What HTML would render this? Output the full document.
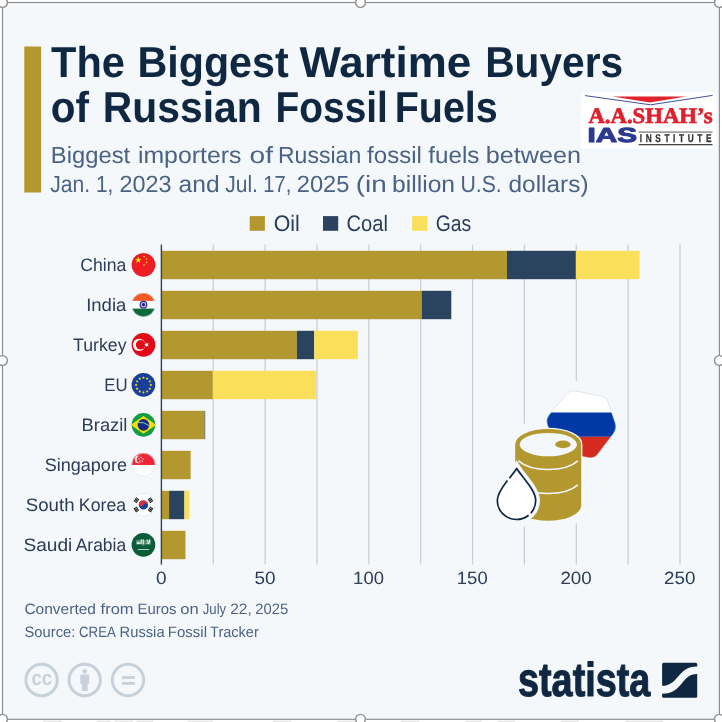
<!DOCTYPE html><html><head><meta charset="utf-8"><title>The Biggest Wartime Buyers of Russian Fossil Fuels</title>
<style>html,body{margin:0;padding:0;background:#fff}svg{display:block}text{font-family:"Liberation Sans",sans-serif;text-rendering:geometricPrecision}</style></head><body>
<svg width="722" height="722" viewBox="0 0 722 722">
<rect width="722" height="722" fill="#fff"/>
<rect x="2.5" y="2.5" width="716.9" height="716.8" fill="#f4f8fb"/>
<rect x="24.3" y="46.5" width="16.8" height="146" fill="#b3972f"/>
<rect x="249.7" y="216.1" width="15.2" height="14.7" fill="#b3972f"/>
<rect x="323.0" y="216.1" width="15.2" height="14.7" fill="#2a4460"/>
<rect x="412.1" y="216.1" width="15.2" height="14.7" fill="#fadf5a"/>
<rect x="212.66" y="244.6" width="1.2" height="320" fill="#c5ccd6"/>
<rect x="264.52" y="244.6" width="1.2" height="320" fill="#c5ccd6"/>
<rect x="316.38" y="244.6" width="1.2" height="320" fill="#c5ccd6"/>
<rect x="368.24" y="244.6" width="1.2" height="320" fill="#c5ccd6"/>
<rect x="420.10" y="244.6" width="1.2" height="320" fill="#c5ccd6"/>
<rect x="471.96" y="244.6" width="1.2" height="320" fill="#c5ccd6"/>
<rect x="523.82" y="244.6" width="1.2" height="320" fill="#c5ccd6"/>
<rect x="575.68" y="244.6" width="1.2" height="320" fill="#c5ccd6"/>
<rect x="627.54" y="244.6" width="1.2" height="320" fill="#c5ccd6"/>
<rect x="679.40" y="244.6" width="1.2" height="320" fill="#c5ccd6"/>
<rect x="522.5" y="423.6" width="4" height="103" fill="#f4f8fb"/>
<rect x="574.5" y="381.2" width="4" height="142.2" fill="#f4f8fb"/>
<defs><clipPath id="hex"><path d="M565.98,394.55 Q569.81,389.94 575.70,391.09 L600.46,395.93 Q606.35,397.08 608.29,402.76 L615.18,422.97 Q617.11,428.65 613.47,433.42 L597.77,453.99 Q594.14,458.76 588.25,457.61 L563.49,452.77 Q557.60,451.62 555.48,446.01 L547.51,424.94 Q545.39,419.33 549.22,414.72 Z"/></clipPath></defs>
<path d="M565.98,394.55 Q569.81,389.94 575.70,391.09 L600.46,395.93 Q606.35,397.08 608.29,402.76 L615.18,422.97 Q617.11,428.65 613.47,433.42 L597.77,453.99 Q594.14,458.76 588.25,457.61 L563.49,452.77 Q557.60,451.62 555.48,446.01 L547.51,424.94 Q545.39,419.33 549.22,414.72 Z" fill="#f4f8fb" stroke="#f4f8fb" stroke-width="8"/>
<g clip-path="url(#hex)"><rect x="540" y="385" width="80" height="27.5" fill="#fff"/><rect x="540" y="412.5" width="80" height="24.3" fill="#0039a6"/><rect x="540" y="436.8" width="80" height="25" fill="#d52b1e"/></g>
<path d="M565.98,394.55 Q569.81,389.94 575.70,391.09 L600.46,395.93 Q606.35,397.08 608.29,402.76 L615.18,422.97 Q617.11,428.65 613.47,433.42 L597.77,453.99 Q594.14,458.76 588.25,457.61 L563.49,452.77 Q557.60,451.62 555.48,446.01 L547.51,424.94 Q545.39,419.33 549.22,414.72 Z" fill="none" stroke="#c9ced6" stroke-width="0.5"/>
<path d="M515.2,444.4 A33,15.5 0 0 1 581.2,444.4 L581.2,505.2 A33,15.5 0 0 1 515.2,505.2 Z" fill="#b3972f" stroke="#f4f8fb" stroke-width="2.4" paint-order="stroke"/>
<ellipse cx="548.3" cy="444.6" rx="28.6" ry="11.7" fill="#f4f8fb"/>
<ellipse cx="562.9" cy="444.4" rx="7.7" ry="3.8" fill="#b3972f"/>
<path d="M518.9000000000001,461.13 A33,15.5 0 0 0 577.5,461.13" fill="none" stroke="#f4f8fb" stroke-width="1.5" stroke-linecap="round"/>
<path d="M518.9000000000001,485.13 A33,15.5 0 0 0 577.5,485.13" fill="none" stroke="#f4f8fb" stroke-width="1.5" stroke-linecap="round"/>
<path d="M516.7,468.5 C522,477 535.7,490 535.7,500.5 A19.2,19 0 0 1 497.3,500.5 C497.3,490 511.4,477 516.7,468.5 Z" fill="#fff" stroke="#f4f8fb" stroke-width="8.6" stroke-linejoin="miter" stroke-miterlimit="10"/>
<path d="M516.7,468.5 C522,477 535.7,490 535.7,500.5 A19.2,19 0 0 1 497.3,500.5 C497.3,490 511.4,477 516.7,468.5 Z" fill="#fff" stroke="#0f2741" stroke-width="1.7" stroke-linejoin="round" stroke-dasharray="51.5 3 65.5 3 200"/>
<rect x="161.40" y="250.8" width="345.60" height="28.4" fill="#b3972f"/>
<rect x="507.00" y="250.8" width="68.87" height="28.4" fill="#2a4460"/>
<rect x="575.87" y="250.8" width="63.68" height="28.4" fill="#fadf5a"/>
<rect x="161.40" y="290.8" width="260.34" height="28.4" fill="#b3972f"/>
<rect x="421.74" y="290.8" width="29.66" height="28.4" fill="#2a4460"/>
<rect x="451.40" y="290.8" width="0.41" height="28.4" fill="#fadf5a"/>
<rect x="161.40" y="330.8" width="135.46" height="28.4" fill="#b3972f"/>
<rect x="296.86" y="330.8" width="17.42" height="28.4" fill="#2a4460"/>
<rect x="314.28" y="330.8" width="43.56" height="28.4" fill="#fadf5a"/>
<rect x="161.40" y="370.8" width="51.45" height="28.4" fill="#b3972f"/>
<rect x="212.85" y="370.8" width="103.31" height="28.4" fill="#fadf5a"/>
<rect x="161.40" y="410.8" width="43.15" height="28.4" fill="#b3972f"/>
<rect x="204.55" y="410.8" width="0.62" height="28.4" fill="#2a4460"/>
<rect x="161.40" y="450.8" width="29.25" height="28.4" fill="#b3972f"/>
<rect x="161.40" y="490.8" width="7.68" height="28.4" fill="#b3972f"/>
<rect x="169.08" y="490.8" width="15.35" height="28.4" fill="#2a4460"/>
<rect x="184.43" y="490.8" width="4.98" height="28.4" fill="#fadf5a"/>
<rect x="161.40" y="530.8" width="24.06" height="28.4" fill="#b3972f"/>
<rect x="160.70" y="244.6" width="1.4" height="320" fill="#2a4460"/>
<text y="76.7" font-size="43.3" fill="#0f2741" font-weight="bold"><tspan x="51.12" textLength="73.80" lengthAdjust="spacingAndGlyphs">The</tspan> <tspan x="137.44" textLength="151.26" lengthAdjust="spacingAndGlyphs">Biggest</tspan> <tspan x="299.50" textLength="171.69" lengthAdjust="spacingAndGlyphs">Wartime</tspan> <tspan x="485.18" textLength="137.92" lengthAdjust="spacingAndGlyphs">Buyers</tspan></text>
<text y="122.4" font-size="43.3" fill="#0f2741" font-weight="bold"><tspan x="50.66" textLength="38.22" lengthAdjust="spacingAndGlyphs">of</tspan> <tspan x="102.67" textLength="159.07" lengthAdjust="spacingAndGlyphs">Russian</tspan> <tspan x="275.61" textLength="112.19" lengthAdjust="spacingAndGlyphs">Fossil</tspan> <tspan x="394.66" textLength="103.12" lengthAdjust="spacingAndGlyphs">Fuels</tspan></text>
<text y="163.4" font-size="23.4" fill="#4a6283"><tspan x="50.76" textLength="79.42" lengthAdjust="spacingAndGlyphs">Biggest</tspan> <tspan x="137.91" textLength="103.47" lengthAdjust="spacingAndGlyphs">importers</tspan> <tspan x="249.60" textLength="23.42" lengthAdjust="spacingAndGlyphs">of</tspan> <tspan x="277.93" textLength="83.37" lengthAdjust="spacingAndGlyphs">Russian</tspan> <tspan x="367.14" textLength="54.75" lengthAdjust="spacingAndGlyphs">fossil</tspan> <tspan x="428.34" textLength="51.11" lengthAdjust="spacingAndGlyphs">fuels</tspan> <tspan x="485.89" textLength="95.16" lengthAdjust="spacingAndGlyphs">between</tspan></text>
<text y="192.4" font-size="23.4" fill="#4a6283"><tspan x="50.15" textLength="39.85" lengthAdjust="spacingAndGlyphs">Jan.</tspan> <tspan x="96.04" textLength="17.35" lengthAdjust="spacingAndGlyphs">1,</tspan> <tspan x="119.55" textLength="52.10" lengthAdjust="spacingAndGlyphs">2023</tspan> <tspan x="178.55" textLength="41.06" lengthAdjust="spacingAndGlyphs">and</tspan> <tspan x="225.15" textLength="32.79" lengthAdjust="spacingAndGlyphs">Jul.</tspan> <tspan x="263.29" textLength="28.06" lengthAdjust="spacingAndGlyphs">17,</tspan> <tspan x="296.74" textLength="52.62" lengthAdjust="spacingAndGlyphs">2025</tspan> <tspan x="355.71" textLength="30.97" lengthAdjust="spacingAndGlyphs">(in</tspan> <tspan x="392.02" textLength="63.04" lengthAdjust="spacingAndGlyphs">billion</tspan> <tspan x="460.41" textLength="41.33" lengthAdjust="spacingAndGlyphs">U.S.</tspan> <tspan x="508.56" textLength="79.96" lengthAdjust="spacingAndGlyphs">dollars)</tspan></text>
<text y="231.0" font-size="22.4" fill="#2a3d59"><tspan x="273.65" textLength="26.10" lengthAdjust="spacingAndGlyphs">Oil</tspan></text>
<text y="231.0" font-size="22.4" fill="#2a3d59"><tspan x="346.58" textLength="41.43" lengthAdjust="spacingAndGlyphs">Coal</tspan></text>
<text y="231.0" font-size="22.4" fill="#2a3d59"><tspan x="435.72" textLength="35.50" lengthAdjust="spacingAndGlyphs">Gas</tspan></text>
<text y="271.3" font-size="18.0" fill="#2a3d59"><tspan x="80.22" textLength="46.11" lengthAdjust="spacingAndGlyphs">China</tspan></text>
<text y="311.3" font-size="18.0" fill="#2a3d59"><tspan x="86.20" textLength="40.15" lengthAdjust="spacingAndGlyphs">India</tspan></text>
<text y="351.3" font-size="18.0" fill="#2a3d59"><tspan x="73.11" textLength="53.38" lengthAdjust="spacingAndGlyphs">Turkey</tspan></text>
<text y="391.3" font-size="18.0" fill="#2a3d59"><tspan x="104.30" textLength="23.31" lengthAdjust="spacingAndGlyphs">EU</tspan></text>
<text y="431.3" font-size="18.0" fill="#2a3d59"><tspan x="81.57" textLength="45.81" lengthAdjust="spacingAndGlyphs">Brazil</tspan></text>
<text y="471.3" font-size="18.0" fill="#2a3d59"><tspan x="44.75" textLength="82.18" lengthAdjust="spacingAndGlyphs">Singapore</tspan></text>
<text y="511.3" font-size="18.0" fill="#2a3d59"><tspan x="25.82" textLength="48.72" lengthAdjust="spacingAndGlyphs">South</tspan> <tspan x="78.82" textLength="47.32" lengthAdjust="spacingAndGlyphs">Korea</tspan></text>
<text y="551.3" font-size="18.0" fill="#2a3d59"><tspan x="23.40" textLength="48.87" lengthAdjust="spacingAndGlyphs">Saudi</tspan> <tspan x="75.70" textLength="50.43" lengthAdjust="spacingAndGlyphs">Arabia</tspan></text>
<text y="614.0" font-size="15.0" fill="#4a6283"><tspan x="24.42" textLength="71.58" lengthAdjust="spacingAndGlyphs">Converted</tspan> <tspan x="100.63" textLength="32.97" lengthAdjust="spacingAndGlyphs">from</tspan> <tspan x="137.46" textLength="38.98" lengthAdjust="spacingAndGlyphs">Euros</tspan> <tspan x="180.37" textLength="18.47" lengthAdjust="spacingAndGlyphs">on</tspan> <tspan x="202.78" textLength="23.38" lengthAdjust="spacingAndGlyphs">July</tspan> <tspan x="230.22" textLength="21.58" lengthAdjust="spacingAndGlyphs">22,</tspan> <tspan x="255.26" textLength="32.85" lengthAdjust="spacingAndGlyphs">2025</tspan></text>
<text y="636.6" font-size="15.0" fill="#4a6283"><tspan x="24.46" textLength="50.87" lengthAdjust="spacingAndGlyphs">Source:</tspan> <tspan x="79.05" textLength="36.11" lengthAdjust="spacingAndGlyphs">CREA</tspan> <tspan x="119.57" textLength="45.03" lengthAdjust="spacingAndGlyphs">Russia</tspan> <tspan x="167.85" textLength="39.17" lengthAdjust="spacingAndGlyphs">Fossil</tspan> <tspan x="210.06" textLength="48.71" lengthAdjust="spacingAndGlyphs">Tracker</tspan></text>
<text y="584.3" font-size="17.8" fill="#2a3d59"><tspan x="156.05" textLength="10.59" lengthAdjust="spacingAndGlyphs">0</tspan></text>
<text y="584.3" font-size="17.8" fill="#2a3d59"><tspan x="254.62" textLength="21.03" lengthAdjust="spacingAndGlyphs">50</tspan></text>
<text y="584.3" font-size="17.8" fill="#2a3d59"><tspan x="353.14" textLength="30.79" lengthAdjust="spacingAndGlyphs">100</tspan></text>
<text y="584.3" font-size="17.8" fill="#2a3d59"><tspan x="456.86" textLength="30.79" lengthAdjust="spacingAndGlyphs">150</tspan></text>
<text y="584.3" font-size="17.8" fill="#2a3d59"><tspan x="560.42" textLength="31.37" lengthAdjust="spacingAndGlyphs">200</tspan></text>
<text y="584.3" font-size="17.8" fill="#2a3d59"><tspan x="664.14" textLength="31.37" lengthAdjust="spacingAndGlyphs">250</tspan></text>
<circle cx="41.6" cy="680" r="15.7" fill="none" stroke="#c6d1dc" stroke-width="3"/>
<circle cx="84.7" cy="680" r="15.7" fill="none" stroke="#c6d1dc" stroke-width="3"/>
<circle cx="128.0" cy="680" r="15.7" fill="none" stroke="#c6d1dc" stroke-width="3"/>
<text x="31.5" y="685.4" font-size="21" font-weight="bold" fill="#c6d1dc" textLength="20.6" lengthAdjust="spacingAndGlyphs">cc</text>
<circle cx="84.8" cy="671.2" r="2.3" fill="#c6d1dc"/>
<path d="M80.3,675.4 q0,-1 1,-1 h6.9 q1,0 1,1 v8.4 h-1.6 v7.3 h-5.7 v-7.3 h-1.6 z" fill="#c6d1dc"/>
<rect x="122" y="676.1" width="12.8" height="2.9" fill="#c6d1dc"/><rect x="122" y="681.9" width="12.8" height="2.9" fill="#c6d1dc"/>
<text x="518.0" y="696.2" font-size="47.5" font-weight="bold" fill="#0f2741" stroke="#0f2741" stroke-width="1.1" stroke-linejoin="round" textLength="132.4" lengthAdjust="spacingAndGlyphs">statista</text>
<rect x="662.1" y="662.8" width="35.1" height="35" rx="1.6" fill="#0f2741"/>
<path d="M661.5,685.8 L662.1,685.8 C679,685.8 677,666.4 697.2,666.4 L698,666.4 L698,674 L697.2,674 C681,674 683,693.8 662.1,693.8 L661.5,693.8 Z" fill="#f4f8fb"/>
<rect x="581" y="92.2" width="135" height="56.4" fill="#fff"/>
<polygon points="612.4,96.6 686.2,96.6 649.8,102.4" fill="#e2232e"/>
<polyline points="585,95.6 650.6,104.8 712.6,95.4" fill="none" stroke="#2f3c94" stroke-width="0.9"/>
<text x="588.4" y="123.2" font-size="22.2" font-weight="bold" fill="#e0202d" stroke="#e0202d" stroke-width="0.7" textLength="124.2" lengthAdjust="spacingAndGlyphs" style="font-family:'Liberation Serif',serif">A.A.SHAH’s</text>
<text x="587.6" y="142.3" font-size="20.5" font-weight="bold" fill="#2b398f" stroke="#2b398f" stroke-width="1.0" stroke-linejoin="round" textLength="49.5" lengthAdjust="spacingAndGlyphs">IAS</text>
<rect x="638.7" y="131.6" width="73.8" height="0.9" fill="#444"/>
<rect x="638.7" y="144" width="73.8" height="1.3" fill="#444"/>
<text transform="translate(639.8,142.2) scale(0.74,1)" x="0" y="0" font-size="11.2" font-weight="bold" fill="#333" stroke="#333" stroke-width="0.3" textLength="96.8" lengthAdjust="spacing">INSTITUTE</text>
<defs>
<clipPath id="fc0"><circle cx="143.45" cy="264.85" r="11.85"/></clipPath>
<clipPath id="fc1"><circle cx="143.45" cy="304.85" r="11.85"/></clipPath>
<clipPath id="fc2"><circle cx="143.45" cy="344.85" r="11.85"/></clipPath>
<clipPath id="fc3"><circle cx="143.45" cy="384.85" r="11.85"/></clipPath>
<clipPath id="fc4"><circle cx="143.45" cy="424.85" r="11.85"/></clipPath>
<clipPath id="fc5"><circle cx="143.45" cy="464.85" r="11.85"/></clipPath>
<clipPath id="fc6"><circle cx="143.45" cy="504.85" r="11.85"/></clipPath>
<clipPath id="fc7"><circle cx="143.45" cy="544.85" r="11.85"/></clipPath>
</defs>
<g clip-path="url(#fc0)"><rect x="130.95" y="252.35000000000002" width="25" height="25" fill="#ee1c25"/>
<polygon points="138.20,256.65 138.99,259.07 141.53,259.07 139.47,260.56 140.26,262.98 138.20,261.49 136.14,262.98 136.93,260.56 134.87,259.07 137.41,259.07" fill="#ffe600"/>
<polygon points="144.70,255.42 144.50,256.35 145.32,256.82 144.38,256.92 144.19,257.84 143.80,256.98 142.86,257.08 143.56,256.45 143.18,255.58 144.00,256.06" fill="#ffd21a"/>
<polygon points="147.25,257.92 147.05,258.85 147.87,259.32 146.93,259.42 146.74,260.34 146.35,259.48 145.41,259.58 146.11,258.95 145.73,258.08 146.55,258.56" fill="#ffd21a"/>
<polygon points="147.25,261.32 147.05,262.25 147.87,262.72 146.93,262.82 146.74,263.74 146.35,262.88 145.41,262.98 146.11,262.35 145.73,261.48 146.55,261.96" fill="#ffd21a"/>
<polygon points="144.70,263.82 144.50,264.75 145.32,265.22 144.38,265.32 144.19,266.24 143.80,265.38 142.86,265.48 143.56,264.85 143.18,263.98 144.00,264.46" fill="#ffd21a"/>
</g>
<g clip-path="url(#fc1)"><rect x="130.95" y="292.35" width="25" height="25" fill="#fff"/>
<rect x="130.95" y="292.35" width="25" height="8.55" fill="#f15b25"/>
<rect x="130.95" y="308.6" width="25" height="9" fill="#0b6b37"/>
<circle cx="143.45" cy="304.65000000000003" r="3.3" fill="#c9c9e6" stroke="#34318c" stroke-width="1.3"/><circle cx="143.45" cy="304.65000000000003" r="1.7" fill="#2a2781"/>
</g>
<circle cx="143.45" cy="304.85" r="11.65" fill="none" stroke="#dfe3e8" stroke-width="0.4"/>
<g clip-path="url(#fc2)"><rect x="130.95" y="332.35" width="25" height="25" fill="#e30a17"/>
<circle cx="139.1" cy="344.85" r="6.2" fill="#fff"/><circle cx="140.6" cy="344.85" r="4.75" fill="#e30a17"/>
<polygon points="143.95,344.85 145.82,344.24 145.82,342.28 146.97,343.87 148.83,343.26 147.68,344.85 148.83,346.44 146.97,345.83 145.82,347.42 145.82,345.46" fill="#fff"/>
</g>
<g clip-path="url(#fc3)"><rect x="130.95" y="372.35" width="25" height="25" fill="#1a3f9a"/>
<polygon points="150.80,383.55 151.27,384.35 152.18,384.55 151.56,385.25 151.65,386.17 150.80,385.80 149.95,386.17 150.04,385.25 149.42,384.55 150.33,384.35" fill="#f4d80c"/>
<polygon points="149.82,387.23 150.29,388.03 151.19,388.23 150.58,388.92 150.67,389.85 149.82,389.48 148.96,389.85 149.05,388.92 148.44,388.23 149.35,388.03" fill="#f4d80c"/>
<polygon points="147.12,389.92 147.60,390.72 148.50,390.92 147.89,391.61 147.98,392.54 147.12,392.17 146.27,392.54 146.36,391.61 145.75,390.92 146.65,390.72" fill="#f4d80c"/>
<polygon points="143.45,390.90 143.92,391.70 144.83,391.90 144.21,392.60 144.30,393.52 143.45,393.15 142.60,393.52 142.69,392.60 142.07,391.90 142.98,391.70" fill="#f4d80c"/>
<polygon points="139.77,389.92 140.25,390.72 141.15,390.92 140.54,391.61 140.63,392.54 139.77,392.17 138.92,392.54 139.01,391.61 138.40,390.92 139.30,390.72" fill="#f4d80c"/>
<polygon points="137.08,387.23 137.55,388.03 138.46,388.23 137.85,388.92 137.94,389.85 137.08,389.48 136.23,389.85 136.32,388.92 135.71,388.23 136.61,388.03" fill="#f4d80c"/>
<polygon points="136.10,383.55 136.57,384.35 137.48,384.55 136.86,385.25 136.95,386.17 136.10,385.80 135.25,386.17 135.34,385.25 134.72,384.55 135.63,384.35" fill="#f4d80c"/>
<polygon points="137.08,379.88 137.55,380.68 138.46,380.88 137.85,381.57 137.94,382.50 137.08,382.12 136.23,382.50 136.32,381.57 135.71,380.88 136.61,380.68" fill="#f4d80c"/>
<polygon points="139.77,377.18 140.25,377.99 141.15,378.19 140.54,378.88 140.63,379.81 139.77,379.43 138.92,379.81 139.01,378.88 138.40,378.19 139.30,377.99" fill="#f4d80c"/>
<polygon points="143.45,376.20 143.92,377.00 144.83,377.20 144.21,377.90 144.30,378.82 143.45,378.45 142.60,378.82 142.69,377.90 142.07,377.20 142.98,377.00" fill="#f4d80c"/>
<polygon points="147.12,377.18 147.60,377.99 148.50,378.19 147.89,378.88 147.98,379.81 147.12,379.43 146.27,379.81 146.36,378.88 145.75,378.19 146.65,377.99" fill="#f4d80c"/>
<polygon points="149.82,379.88 150.29,380.68 151.19,380.88 150.58,381.57 150.67,382.50 149.82,382.12 148.96,382.50 149.05,381.57 148.44,380.88 149.35,380.68" fill="#f4d80c"/>
</g>
<g clip-path="url(#fc4)"><rect x="130.95" y="412.35" width="25" height="25" fill="#0f9e45"/>
<polygon points="130.85,424.85 143.45,415.95000000000005 156.04999999999998,424.85 143.45,433.85" fill="#fedc00"/>
<circle cx="143.45" cy="424.85" r="5.8" fill="#14298c"/>
<path d="M138.04999999999998,422.55 Q143.95,421.45000000000005 149.04999999999998,425.65000000000003" fill="none" stroke="#8fd1a8" stroke-width="1.0"/>
</g>
<g clip-path="url(#fc5)"><rect x="130.95" y="452.35" width="25" height="25" fill="#fff"/>
<rect x="130.95" y="452.35" width="25" height="12.6" fill="#ed2537"/>
<circle cx="138.64999999999998" cy="459.45000000000005" r="3.8" fill="#fff"/><circle cx="140.04999999999998" cy="459.45000000000005" r="3.4" fill="#ed2537"/>
<circle cx="141.05" cy="457.45" r="0.7" fill="#fbe3e6"/>
<circle cx="143.05" cy="458.90" r="0.7" fill="#fbe3e6"/>
<circle cx="142.28" cy="461.25" r="0.7" fill="#fbe3e6"/>
<circle cx="139.82" cy="461.25" r="0.7" fill="#fbe3e6"/>
<circle cx="139.05" cy="458.90" r="0.7" fill="#fbe3e6"/>
</g>
<circle cx="143.45" cy="464.85" r="11.549999999999999" fill="none" stroke="#d9dde3" stroke-width="0.6"/>
<g clip-path="url(#fc6)"><rect x="130.95" y="492.35" width="25" height="25" fill="#fff"/>
<g transform="rotate(20 143.45 504.85)">
<path d="M138.75,504.85 A4.7,4.7 0 0 1 148.14999999999998,504.85 Z" fill="#d32f3c"/>
<path d="M138.75,504.85 A4.7,4.7 0 0 0 148.14999999999998,504.85 Z" fill="#0d47a1"/>
<circle cx="141.1" cy="504.85" r="2.35" fill="#d32f3c"/><circle cx="145.79999999999998" cy="504.85" r="2.35" fill="#0d47a1"/>
</g>
<g transform="rotate(33 143.45 504.85)">
<rect x="150.05" y="502.45000000000005" width="1.0" height="4.8" fill="#161616"/>
<rect x="151.35" y="502.45000000000005" width="1.0" height="4.8" fill="#161616"/>
<rect x="152.65" y="502.45000000000005" width="1.0" height="4.8" fill="#161616"/>
</g>
<g transform="rotate(147 143.45 504.85)">
<rect x="150.05" y="502.45000000000005" width="1.0" height="4.8" fill="#161616"/>
<rect x="151.35" y="502.45000000000005" width="1.0" height="4.8" fill="#161616"/>
<rect x="152.65" y="502.45000000000005" width="1.0" height="4.8" fill="#161616"/>
</g>
<g transform="rotate(213 143.45 504.85)">
<rect x="150.05" y="502.45000000000005" width="1.0" height="4.8" fill="#161616"/>
<rect x="151.35" y="502.45000000000005" width="1.0" height="4.8" fill="#161616"/>
<rect x="152.65" y="502.45000000000005" width="1.0" height="4.8" fill="#161616"/>
</g>
<g transform="rotate(327 143.45 504.85)">
<rect x="150.05" y="502.45000000000005" width="1.0" height="4.8" fill="#161616"/>
<rect x="151.35" y="502.45000000000005" width="1.0" height="4.8" fill="#161616"/>
<rect x="152.65" y="502.45000000000005" width="1.0" height="4.8" fill="#161616"/>
</g>
</g>
<circle cx="143.45" cy="504.85" r="11.549999999999999" fill="none" stroke="#d5d9df" stroke-width="0.6"/>
<g clip-path="url(#fc7)"><rect x="130.95" y="532.35" width="25" height="25" fill="#0b5c38"/>
<rect x="136.04999999999998" y="539.95" width="14.9" height="4.7" fill="#fff" opacity="0.3"/>
<text x="136.25" y="543.95" font-size="6.4" fill="#fff" opacity="0.85" font-weight="bold" textLength="14.5" lengthAdjust="spacingAndGlyphs" style="font-family:'DejaVu Sans',sans-serif">لا إله</text>
<rect x="137.75" y="549.0500000000001" width="11.3" height="0.75" fill="#e8f0ea"/>
</g>
<rect x="43.2" y="720.7" width="18.3" height="1.3" fill="#e5e5e5"/>
<rect x="96.4" y="720.7" width="13.3" height="1.3" fill="#e5e5e5"/>
<rect x="114.7" y="720.7" width="18.3" height="1.3" fill="#e5e5e5"/>
<rect x="136.3" y="720.7" width="16.7" height="1.3" fill="#e5e5e5"/>
<rect x="187.8" y="720.7" width="25.0" height="1.3" fill="#e5e5e5"/>
<rect x="273.2" y="720.7" width="18.3" height="1.3" fill="#e5e5e5"/>
<rect x="338" y="720.7" width="16.7" height="1.3" fill="#e5e5e5"/>
<rect x="401.2" y="720.7" width="18.3" height="1.3" fill="#e5e5e5"/>
<rect x="466" y="720.7" width="15.7" height="1.3" fill="#e5e5e5"/>
<rect x="498.4" y="720.7" width="16.8" height="1.3" fill="#e5e5e5"/>
<rect x="560.5" y="720.7" width="18.4" height="1.3" fill="#e5e5e5"/>
<rect x="625.8" y="720.7" width="36.9" height="1.3" fill="#e5e5e5"/>
<rect x="2.5" y="2.5" width="716.9" height="716.8" fill="none" stroke="#8f8f8f" stroke-width="1.2"/>
<circle cx="2.5" cy="2.5" r="4.9" fill="#fff" stroke="#8f8f8f" stroke-width="1.4"/>
<circle cx="360.5" cy="2.5" r="4.9" fill="#fff" stroke="#8f8f8f" stroke-width="1.4"/>
<circle cx="719.4" cy="2.5" r="4.9" fill="#fff" stroke="#8f8f8f" stroke-width="1.4"/>
<circle cx="2.5" cy="360.5" r="4.9" fill="#fff" stroke="#8f8f8f" stroke-width="1.4"/>
<circle cx="719.4" cy="360.5" r="4.9" fill="#fff" stroke="#8f8f8f" stroke-width="1.4"/>
<circle cx="2.5" cy="719.3" r="4.9" fill="#fff" stroke="#8f8f8f" stroke-width="1.4"/>
<circle cx="360.5" cy="719.3" r="4.9" fill="#fff" stroke="#8f8f8f" stroke-width="1.4"/>
<circle cx="719.4" cy="719.3" r="4.9" fill="#fff" stroke="#8f8f8f" stroke-width="1.4"/>
</svg></body></html>
